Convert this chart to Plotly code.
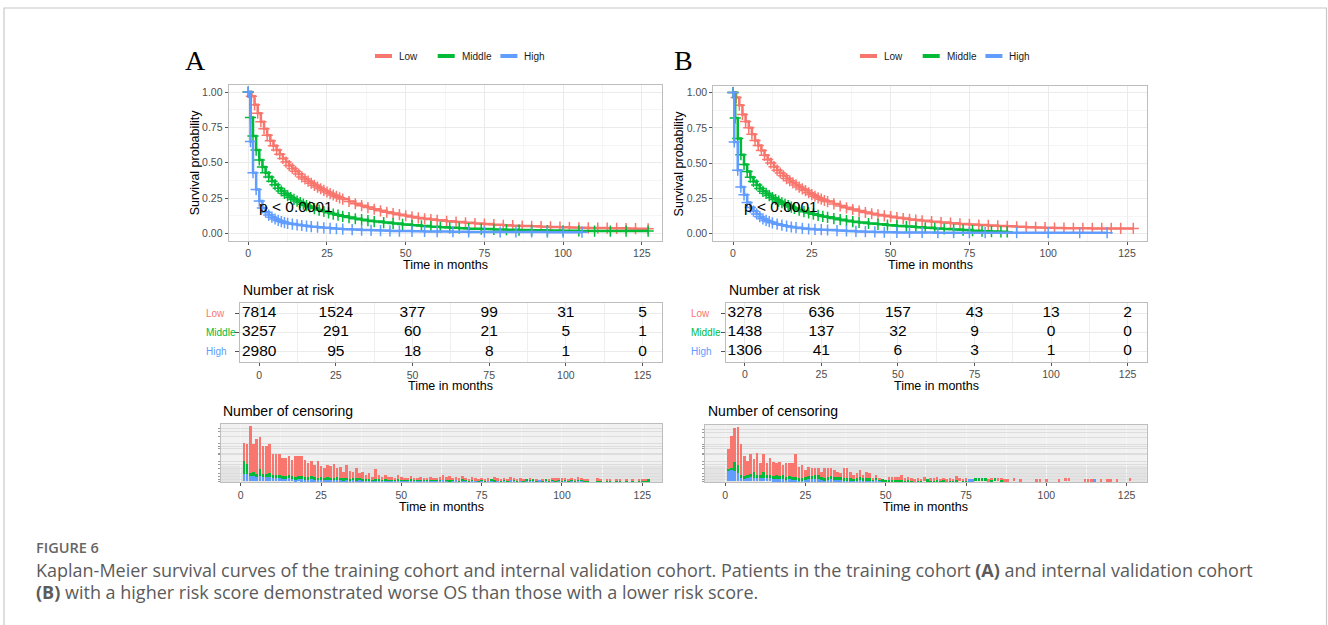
import plotly.graph_objects as go

W, H = 1328, 625
FONT = "Liberation Sans, Arial, sans-serif"
COL = {"Low": "#F8766D", "Middle": "#00BA38", "High": "#619CFF"}
GROUPS = ["Low", "Middle", "High"]

# ---------------- DATA ----------------
# Kaplan-Meier curves, panel A (training cohort)
a_low_t = [0,1,2,3,4,5,6,7,8,9,10,11,12,13,14,15,16,17,18,19,20,21,22,23,24,25,26,27,28,29,30,
           32,34,36,38,40,42,44,46,48,50,52,54,56,58,60,
           63,66,69,72,75,78,81,84,87,90,93,96,99,102,105,108,111,114,117,120,123,127]
a_low_s = [1.0,0.97,0.91,0.85,0.79,0.74,0.695,0.655,0.62,0.59,0.56,
           0.53,0.505,0.48,0.46,0.44,0.42,0.40,0.385,0.37,0.355,
           0.34,0.328,0.316,0.304,0.293,0.282,0.272,0.262,0.252,0.243,
           0.226,0.21,0.196,0.183,0.171,0.16,0.15,0.141,0.133,0.125,0.117,0.11,0.104,0.098,0.093,
           0.086,0.08,0.075,0.07,0.066,0.062,0.058,0.055,0.052,0.05,0.048,0.046,0.044,0.042,0.04,0.039,0.038,0.037,0.036,0.035,0.034,
           0.033]
a_mid_t = [0,0.7,1.5,2.5,3.5,4.5,5.5,6.5,7.5,8.5,9.5,10.5,11.5,12.5,13.5,14.5,15.5,16.5,17.5,18.5,19.5,
           21,22.5,24,25.5,27,28.5,30,32,34,36,38,40,43,46,49,52,55,58,61,64,67,70,
           74,78,82,86,90,95,100,105,110,115,120,127]
a_mid_s = [1.0,0.82,0.69,0.59,0.52,0.47,0.43,0.40,0.37,0.345,0.32,0.30,0.283,0.268,0.254,0.241,0.229,0.218,0.207,0.197,0.188,
           0.176,0.165,0.155,0.146,0.137,0.129,0.121,0.112,0.104,0.097,0.09,0.084,
           0.077,0.07,0.064,0.058,0.053,0.048,0.044,0.04,0.037,0.034,
           0.031,0.028,0.026,0.024,0.022,0.02,0.019,0.018,0.017,0.017,0.017,0.017]
a_high_t = [0,0.7,1.5,2.5,3.5,4.5,5.5,6.5,7.5,8.5,9.5,10.5,11.5,12.5,14,15.5,17,18.5,20,
            22,24,26,28,30,33,36,39,42,45,48,52,56,60,65,70,75,80,85,90,95,100,106]
a_high_s = [1.0,0.65,0.43,0.31,0.23,0.18,0.15,0.13,0.115,0.102,0.092,0.084,0.077,0.071,
            0.066,0.061,0.056,0.052,0.048,0.044,0.04,0.036,0.033,0.03,
            0.027,0.024,0.022,0.02,0.018,0.017,0.015,0.014,0.013,
            0.012,0.011,0.011,0.01,0.01,0.01,0.009,0.009,0.009]

# Kaplan-Meier curves, panel B (internal validation cohort)
b_low_t = list(a_low_t)
b_low_s = [1.0,0.965,0.91,0.845,0.795,0.75,0.705,0.66,0.625,0.59,0.555,
           0.525,0.5,0.475,0.45,0.43,0.41,0.39,0.375,0.36,0.345,
           0.33,0.317,0.305,0.29,0.277,0.265,0.254,0.244,0.235,0.227,
           0.211,0.196,0.183,0.171,0.16,0.15,0.141,0.133,0.126,0.12,0.113,0.107,0.101,0.096,0.091,
           0.085,0.079,0.074,0.069,0.065,0.061,0.058,0.055,0.052,0.049,0.046,0.044,0.042,0.04,0.039,0.038,0.038,0.037,0.037,0.037,0.037,
           0.037]
b_mid_t = [0,0.7,1.5,2.5,3.5,4.5,5.5,6.5,7.5,8.5,9.5,10.5,11.5,12.5,13.5,14.5,15.5,16.5,17.5,18.5,19.5,
           21,22.5,24,25.5,27,28.5,30,32,34,36,38,40,43,46,49,52,55,58,61,64,67,70,73,76,79,82,85,87]
b_mid_s = [1.0,0.82,0.675,0.56,0.49,0.44,0.40,0.37,0.345,0.32,0.30,0.285,0.27,0.255,0.242,0.23,0.219,0.208,0.198,0.188,0.179,
           0.167,0.156,0.147,0.138,0.13,0.122,0.116,0.107,0.099,0.092,0.085,0.079,
           0.072,0.066,0.06,0.055,0.05,0.045,0.041,0.037,0.033,0.029,
           0.025,0.021,0.017,0.015,0.013,0.012]
b_high_t = [0,0.4,1.5,2.5,3.5,4.5,5.5,6.5,7.5,8.5,9.5,10.5,11.5,12.5,14,15.5,17,18.5,20,
            22,24,26,28,30,33,36,39,42,45,48,52,56,60,65,70,75,80,90,100,110,118.7]
b_high_s = [1.0,0.65,0.45,0.33,0.275,0.22,0.185,0.16,0.14,0.12,0.105,0.094,0.085,0.077,
            0.067,0.06,0.053,0.047,0.042,0.037,0.033,0.03,0.028,0.026,
            0.022,0.019,0.016,0.014,0.012,0.01,0.009,0.008,0.008,
            0.007,0.007,0.007,0.007,0.007,0.007,0.007,0.007]

# Number at risk tables
risk_times = [0, 25, 50, 75, 100, 125]
a_risk = {"Low": [7814, 1524, 377, 99, 31, 5],
          "Middle": [3257, 291, 60, 21, 5, 1],
          "High": [2980, 95, 18, 8, 1, 0]}
b_risk = {"Low": [3278, 636, 157, 43, 13, 2],
          "Middle": [1438, 137, 32, 9, 0, 0],
          "High": [1306, 41, 6, 3, 1, 0]}

# Number of censoring per month (months 1..127)
cens_months = list(range(1, 128))
a_cens_high = [7,7,5,5,4,5,4,4,4,4, 3,4,3,3,3,3,2,3,2,2, 2,2,2,2,2,2,2,2,2,2,
               2,1,2,1,2,1,2,1,1,1, 1,1,1,1,1,1,1,1,1,1, 1,1,1,1,1,1,1,1,1,1,
               1,1,1,1,0,1,1,0,1,1, 0,1,1,0,1,0,1,1,0,1, 0,1,0,1,1,0,1,0,1,1,
               1,0,1,0,1,0,1,0,1,0, 1,0,1,0,1,1,0,0,0,0, 0,0,0,0,0,0,0,0,0,0,
               0,0,0,0,0,0,0]
a_cens_mid = [13,10,3,4,3,7,3,3,4,2, 3,2,2,2,3,2,2,2,3,2, 2,3,2,1,2,1,2,1,1,2,
              1,2,1,1,1,2,1,1,1,1, 1,1,1,1,1,1,1,1,1,1, 1,1,1,1,1,1,1,1,1,1,
              1,1,0,1,1,1,0,1,1,1, 1,1,0,1,1,1,0,1,1,0, 1,1,1,0,1,1,0,1,1,1,
              1,1,0,1,1,1,1,1,1,1, 1,1,1,1,1,1,1,1,0,0, 1,1,0,1,1,0,1,1,0,1,
              0,1,0,1,1,1,2]
a_cens_low = [18,20,47,28,35,32,28,28,29,21, 21,21,18,18,19,16,21,20,20,17,
              14,15,12,17,11,10,12,12,14,9, 11,6,13,8,6,10,5,7,4,6,
              2,10,4,2,4,2,2,1,4,2, 1,1,3,1,1,2,1,1,2,1,
              1,2,5,2,4,1,3,2,3,1, 1,2,2,1,1,1,2,0,3,2,
              1,1,1,3,1,1,2,1,0,1, 0,1,0,1,0,1,1,2,1,2,
              1,1,1,1,2,1,1,1,0,0, 2,1,0,1,1,0,1,1,0,1,
              0,1,0,1,1,1,0]
b_cens_high = [11,12,10,8,3,3,3,4,3,4, 3,3,3,3,2,2,2,2,2,2, 2,2,1,1,2,2,2,2,2,2,
               1,2,2,2,2,2,1,1,1,1, 1,2,1,1,1,1,2,1,0,0, 0,0,0,0,0,0,0,0,0,0,
               0,0,0,0,0,0,0,0,0,0, 0,0,0,0,0,2,2,0,0,0, 0,0,0,0,0,0,0,0,0,0,
               0,0,0,0,0,0,0,0,0,0, 0,0,0,0,0,0,0,0,0,0, 0,0,0,0,2,0,0,0,0,0,
               0,0,0,0,0,0,0]
b_cens_mid = [1,1,10,8,3,2,3,3,6,2, 3,6,3,3,3,4,3,4,2,3, 2,2,2,2,2,3,3,4,4,2,
              2,2,3,2,2,2,2,2,2,1, 2,2,2,2,2,1,1,1,2,1, 1,1,1,1,1,1,2,1,0,1,
              1,0,2,1,1,2,1,2,0,1, 1,1,0,1,1,0,0,3,3,3, 3,0,2,3,0,2,0,0,0,0,
              0,0,0,0,0,0,0,0,0,0, 0,0,0,0,0,0,0,0,0,0, 0,0,0,0,0,0,0,0,0,0,
              0,0,0,0,0,0,0]
b_cens_low = [21,33,34,39,32,21,15,21,14,23, 13,19,13,18,15,13,15,10,15,13,
              14,24,11,13,7,9,8,7,7,5, 10,9,8,7,5,4,10,10,6,4,
              5,7,3,6,5,1,3,1,0,0, 3,3,3,3,5,2,2,2,2,2,
              1,4,0,2,2,2,1,1,2,2, 1,4,3,1,2,0,0,0,0,0,
              0,2,1,0,3,1,2,2,0,3, 0,2,0,0,0,0,2,2,0,2,
              0,0,0,2,0,3,3,0,0,0, 0,2,2,2,0,0,2,0,2,2,
              0,2,0,0,0,3,0]

x_ticks = [0, 25, 50, 75, 100, 125]
x_minor = [12.5, 37.5, 62.5, 87.5, 112.5]
y_ticks = [0, 0.25, 0.5, 0.75, 1.0]
y_ticktext = ["0.00", "0.25", "0.50", "0.75", "1.00"]
cens_grid = [0, 2, 5, 8, 13, 17, 20, 27, 28, 33, 35, 38, 45, 50, 53]

# ---------------- HELPERS ----------------
def px(x):
    return x / W

def py(y):
    return 1 - y / H

fig = go.Figure()
annotations = []
shapes = []
layout_axes = {}

XRANGE = [-6.25, 131.25]

def add_text(x, y, text, size, color="#000000", xanchor="left", yanchor="middle",
             family=FONT, angle=0, weight=None):
    f = dict(size=size, color=color, family=family)
    if weight is not None:
        f["weight"] = weight
    annotations.append(dict(x=px(x), y=py(y), xref="paper", yref="paper", text=text,
                            showarrow=False, xanchor=xanchor, yanchor=yanchor,
                            font=f, textangle=angle))

def axis_common(tick_size):
    return dict(showline=True, mirror=True, linecolor="#BDBDBD", linewidth=1,
                ticks="outside", ticklen=3, tickcolor="#555555", tickwidth=1,
                tickfont=dict(size=tick_size, color="#4D4D4D", family=FONT),
                zeroline=False)

def build_panel(idx, boxes, km, risk, cens, letter, letter_x, legend_x, row_label_x, pval_x):
    km_box, tab_box, cens_box = boxes
    n1, n2, n3 = 3 * idx + 1, 3 * idx + 2, 3 * idx + 3

    def nm(n, ax):
        return ax if n == 1 else f"{ax}{n}"

    # KM plot
    x0, y0, x1, y1 = km_box
    xa = axis_common(10.5)
    xa.update(domain=[px(x0), px(x1)], range=XRANGE, anchor=nm(n1, "y"),
              tickmode="array", tickvals=x_ticks, showgrid=True, gridcolor="#EBEBEB",
              minor=dict(tickvals=x_minor, showgrid=True, gridcolor="#F5F5F5", ticks=""))
    ya = axis_common(10.5)
    ya.update(domain=[py(y1), py(y0)], range=[-0.05, 1.05], anchor=nm(n1, "x"),
              tickmode="array", tickvals=y_ticks, ticktext=y_ticktext, showgrid=True,
              gridcolor="#EBEBEB",
              minor=dict(tickvals=[0.125, 0.375, 0.625, 0.875], showgrid=True,
                         gridcolor="#F5F5F5", ticks=""))
    layout_axes[nm(n1, "xaxis")] = xa
    layout_axes[nm(n1, "yaxis")] = ya
    for g in GROUPS:
        t, s = km[g]
        fig.add_trace(go.Scatter(
            x=t, y=s, mode="lines+markers", xaxis=nm(n1, "x"), yaxis=nm(n1, "y"),
            line=dict(color=COL[g], width=2.5, shape="hv"),
            marker=dict(symbol="cross-thin", size=8, color=COL[g],
                        line=dict(color=COL[g], width=1.5)),
            showlegend=False, hoverinfo="skip"))
    add_text((x0 + x1) / 2, 264.5, "Time in months", 12.5, xanchor="center")
    add_text(x0 - 34, (y0 + y1) / 2, "Survival probability", 12.5, xanchor="center", angle=-90)
    add_text(pval_x, 206.5, "p < 0.0001", 15.5)
    add_text(letter_x, 60.5, letter, 28, family="Liberation Serif, Times New Roman, serif")
    # legend
    for i, g in enumerate(GROUPS):
        lx = legend_x + i * 62.7
        shapes.append(dict(type="line", xref="paper", yref="paper",
                           x0=px(lx), x1=px(lx + 17), y0=py(56), y1=py(56),
                           line=dict(color=COL[g], width=4)))
        add_text(lx + 22, 56, g, 10, color="#1A1A1A")

    # Risk table
    x0, y0, x1, y1 = tab_box
    xa = axis_common(10.5)
    xa.update(domain=[px(x0), px(x1)], range=XRANGE, anchor=nm(n2, "y"),
              tickmode="array", tickvals=x_ticks, showgrid=True, gridcolor="#EBEBEB",
              minor=dict(tickvals=x_minor, showgrid=True, gridcolor="#EFEFEF", ticks=""))
    ya = axis_common(10)
    ya.update(domain=[py(y1), py(y0)], range=[-0.53, 2.53], anchor=nm(n2, "x"),
              tickmode="array", tickvals=[0, 1, 2], showticklabels=False, ticklen=4,
              showgrid=True, gridcolor="#EBEBEB")
    layout_axes[nm(n2, "xaxis")] = xa
    layout_axes[nm(n2, "yaxis")] = ya
    for row, g in zip([2, 1, 0], GROUPS):
        fig.add_trace(go.Scatter(
            x=risk_times, y=[row] * len(risk_times), mode="text",
            text=[str(v) for v in risk[g]], textposition="middle center",
            textfont=dict(size=15.5, color="#000000", family=FONT),
            xaxis=nm(n2, "x"), yaxis=nm(n2, "y"), showlegend=False,
            hoverinfo="skip", cliponaxis=False))
        ypix = y0 + (2.53 - row) / 3.06 * (y1 - y0)
        add_text(row_label_x, ypix, g, 10, color=COL[g])
    add_text(x0 + 1, 290, "Number at risk", 14)
    add_text((x0 + x1) / 2, 386, "Time in months", 12.5, xanchor="center")

    # Censoring plot
    x0, y0, x1, y1 = cens_box
    xa = axis_common(10.5)
    xa.update(domain=[px(x0), px(x1)], range=XRANGE, anchor=nm(n3, "y"),
              tickmode="array", tickvals=x_ticks, showgrid=True, gridcolor="#F7F7F7",
              minor=dict(tickvals=x_minor, showgrid=True, gridcolor="#F7F7F7", ticks=""))
    ya = axis_common(6)
    ya.update(domain=[py(y1), py(y0)], range=[-1, 57.5], anchor=nm(n3, "x"),
              tickmode="array", tickvals=cens_grid, showticklabels=False, ticklen=2,
              tickcolor="#9A9A9A", showgrid=True, gridcolor="#DDDDDD")
    layout_axes[nm(n3, "xaxis")] = xa
    layout_axes[nm(n3, "yaxis")] = ya
    shapes.append(dict(type="rect", xref=f"{nm(n3, 'x')} domain", yref=f"{nm(n3, 'y')} domain",
                       x0=0, x1=1, y0=0, y1=1, fillcolor="#F1F1F1", line=dict(width=0),
                       layer="below"))
    shapes.append(dict(type="rect", xref=f"{nm(n3, 'x')} domain", yref=f"{nm(n3, 'y')} domain",
                       x0=0, x1=1, y0=0, y1=0.28, fillcolor="#E3E3E3", line=dict(width=0),
                       layer="below"))
    for g in ["High", "Middle", "Low"]:
        fig.add_trace(go.Bar(
            x=cens_months, y=cens[g], marker=dict(color=COL[g], line=dict(width=0)),
            width=0.8, xaxis=nm(n3, "x"), yaxis=nm(n3, "y"), showlegend=False,
            hoverinfo="skip"))
    add_text(x0 + 0.5, 411, "Number of censoring", 14)
    add_text((x0 + x1) / 2, 507, "Time in months", 12.5, xanchor="center")


build_panel(
    0,
    [(228.6, 85, 661.5, 240.5), (240, 303, 661.7, 362), (220.6, 424, 662.4, 482)],
    {"Low": (a_low_t, a_low_s), "Middle": (a_mid_t, a_mid_s), "High": (a_high_t, a_high_s)},
    a_risk,
    {"Low": a_cens_low, "Middle": a_cens_mid, "High": a_cens_high},
    "A", 183, 375, 204, 257)

build_panel(
    1,
    [(713.3, 85.5, 1146.7, 240.7), (725.7, 303.3, 1146.7, 361.7), (705, 425, 1146.7, 482)],
    {"Low": (b_low_t, b_low_s), "Middle": (b_mid_t, b_mid_s), "High": (b_high_t, b_high_s)},
    b_risk,
    {"Low": b_cens_low, "Middle": b_cens_mid, "High": b_cens_high},
    "B", 671.5, 860, 689.3, 742)

# Caption
CAP_FONT = "Open Sans, Noto Sans, sans-serif"
add_text(34, 547, "FIGURE 6", 14.5, color="#666666", family=CAP_FONT, weight=600)
add_text(34, 569.5, "Kaplan-Meier survival curves of the training cohort and internal validation cohort. "
         "Patients in the training cohort <b>(A)</b> and internal validation cohort",
         18, color="#5B5B5B", family=CAP_FONT)
add_text(34, 592, "<b>(B)</b> with a higher risk score demonstrated worse OS than those with a lower risk score.",
         18, color="#5B5B5B", family=CAP_FONT)

# Outer frame
shapes.append(dict(type="rect", xref="paper", yref="paper",
                   x0=px(4), x1=px(1326.5), y0=py(640), y1=py(8),
                   line=dict(color="#C8C8C8", width=1.2), fillcolor="rgba(0,0,0,0)"))

fig.update_layout(
    width=W, height=H, autosize=False,
    margin=dict(l=0, r=0, t=0, b=0),
    paper_bgcolor="white", plot_bgcolor="white",
    showlegend=False, barmode="stack", bargap=0.2,
    font=dict(family=FONT),
    annotations=annotations, shapes=shapes,
    **layout_axes)

fig.write_html("out.html")
